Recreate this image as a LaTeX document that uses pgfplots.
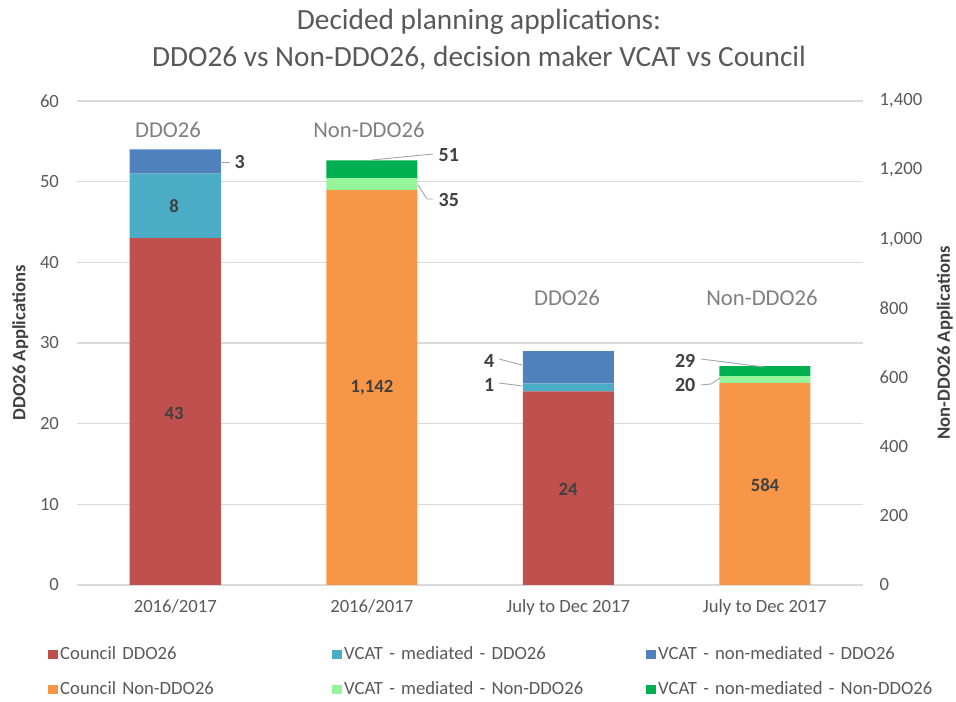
\documentclass[border=0pt]{standalone}
\usepackage{pgfplots}
\pgfplotsset{compat=1.18}
\usepackage{fontspec}
\setmainfont{Carlito}
\definecolor{cred}{HTML}{C0504D}
\definecolor{ccyan}{HTML}{4BACC6}
\definecolor{cblue}{HTML}{4F81BD}
\definecolor{corange}{HTML}{F79646}
\definecolor{clgreen}{HTML}{96F59A}
\definecolor{cgreen}{HTML}{00B050}
\definecolor{txt}{HTML}{595959}
\definecolor{lbl}{HTML}{404040}
\definecolor{gridc}{HTML}{D9D9D9}
\definecolor{catc}{HTML}{808080}
\definecolor{ldrc}{HTML}{A6A6A6}
\begin{document}
\begin{tikzpicture}
\useasboundingbox (0,0) rectangle (717pt,526.5pt);
\pgfplotsset{base/.style={
  at={(57.75pt,87.75pt)}, anchor=south west, scale only axis,
  width=589.5pt, height=363pt,
  xmin=-0.5, xmax=3.5, ybar stacked, bar width=68.25pt,
  axis line style={draw=none}, major tick length=0pt,
  ticklabel style={font=\fontsize{14}{16}\selectfont, text=txt},
  /pgf/number format/assume math mode=true,
  /pgf/number format/1000 sep={,},
  label style={font=\fontsize{14}{16}\selectfont\bfseries, text=lbl},
  clip=false,
}}
\begin{axis}[base,
  ymin=0, ymax=60, ytick={0,10,...,60},
  ymajorgrids, grid style={gridc, line width=0.8pt},
  xtick={0,1,2,3},
  xticklabels={2016/2017,2016/2017,July to Dec 2017,July to Dec 2017},
  xticklabel style={yshift=-7pt}, yticklabel style={xshift=-10pt},
  ylabel={DDO26 Applications},
  ylabel style={at={(axis description cs:-0.072,0.5)}, anchor=center},
  legend columns=3,
  legend image code/.code={\fill[#1] (0pt,-3.5pt) rectangle (7pt,3.5pt);},
  legend style={at={(axis description cs:-0.042,-0.116)}, anchor=north west,
    draw=none, fill=none, font=\fontsize{14}{16}\selectfont, text=txt,
    nodes={align=left, inner xsep=2pt},
    /tikz/column 2/.style={text width=202pt},
    /tikz/column 4/.style={text width=224.5pt},
    /tikz/column 6/.style={text width=215pt},
    row sep=11pt},
]
\addplot[fill=cred, draw=none] coordinates {(0,43) (2,24)};
\addplot[fill=ccyan, draw=none] coordinates {(0,8) (2,1)};
\addplot[fill=cblue, draw=none] coordinates {(0,3) (2,4)};
\addlegendentry{Council DDO26}
\addlegendentry{VCAT - mediated - DDO26}
\addlegendentry{VCAT - non-mediated - DDO26}
\addlegendimage{fill=corange, draw=none}
\addlegendentry{Council Non-DDO26}
\addlegendimage{fill=clgreen, draw=none}
\addlegendentry{VCAT - mediated - Non-DDO26}
\addlegendimage{fill=cgreen, draw=none}
\addlegendentry{VCAT - non-mediated - Non-DDO26}
\end{axis}
\begin{axis}[base,
  ymin=0, ymax=1400, ytick={0,200,...,1400},
  axis y line*=right, axis x line=none, xtick=\empty,
  yticklabel style={xshift=9pt},
  ylabel={Non-DDO26 Applications},
  ylabel style={at={(axis description cs:1.104,0.5)}, anchor=center},
]
\addplot[fill=corange, draw=none] coordinates {(1,1142) (3,584)};
\addplot[fill=clgreen, draw=none] coordinates {(1,35) (3,20)};
\addplot[fill=cgreen, draw=none] coordinates {(1,51) (3,29)};
\end{axis}
\begin{scope}[x=0.75pt, y=-0.75pt, shift={(0pt,526.5pt)}]
  \node[font=\fontsize{22}{28}\selectfont, text=txt, align=center] at (479,40)
    {Decided planning applications:\\DDO26 vs Non-DDO26, decision maker VCAT vs Council};
  \begin{scope}[font=\fontsize{17}{20}\selectfont, text=catc]
    \node at (168,130) {DDO26};
    \node at (369,130) {Non-DDO26};
    \node at (567,298) {DDO26};
    \node at (762,298) {Non-DDO26};
  \end{scope}
  \begin{scope}[font=\fontsize{14}{16}\selectfont\bfseries, text=lbl]
    \node at (174,413) {43};
    \node at (174,206) {8};
    \node at (568,489) {24};
    \node at (372,388) {1,142};
    \node at (765,485) {584};
  \end{scope}
  \begin{scope}[draw=ldrc, line width=0.7pt]
    \draw (220,162) -- (230,162);
    \draw (372,160) -- (433,154);
    \draw (418,185) -- (427,199) -- (433,199);
    \draw (499,359) -- (522,365);
    \draw (499,383) -- (522,386);
    \draw (701,359) -- (764,367);
    \draw (701,385) -- (711,384) -- (720,378);
  \end{scope}
  \begin{scope}[font=\fontsize{15}{18}\selectfont\bfseries, text=lbl]
    \node[anchor=west] at (230,162) {3};
    \node[anchor=west] at (434,155) {51};
    \node[anchor=west] at (434,200) {35};
    \node[anchor=east] at (499,361) {4};
    \node[anchor=east] at (499,385) {1};
    \node[anchor=east] at (700,361) {29};
    \node[anchor=east] at (700,385) {20};
  \end{scope}
\end{scope}
\end{tikzpicture}
\end{document}
